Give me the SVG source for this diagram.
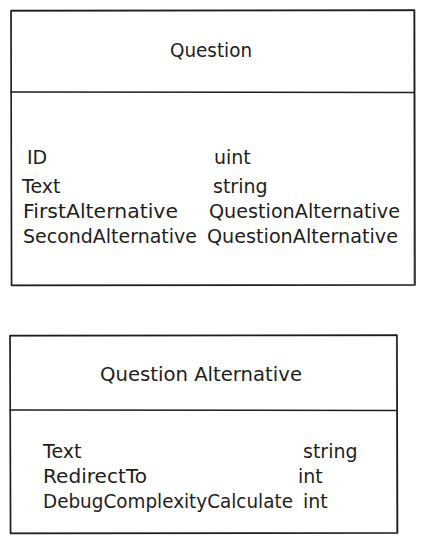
<svg xmlns="http://www.w3.org/2000/svg" width="425" height="543" viewBox="0 0 425 543">
<style>
.box{fill:none;stroke:#1e1e1e;stroke-width:1.6;stroke-linecap:round;stroke-linejoin:round}
.sk{fill:none;stroke:#1e1e1e;stroke-width:0.8;stroke-linecap:round;opacity:0.7}
text{font-family:"DejaVu Sans","Liberation Sans",sans-serif;font-size:19px;fill:#1e1e1e}
</style>
<rect width="425" height="543" fill="#ffffff"/>
<g id="question">
<path class="box" d="M11 10.5 L414.5 10 L415 285 L11.5 285.5 Z"/>
<path class="sk" d="M12 11.5 L413 10.8 M413.8 11 L414 284 M413 284.6 L12 284.8 M11.8 284 L11.3 11.5"/>
<path class="box" d="M11 92 L414 92.5"/>
<text x="211" y="57" text-anchor="middle" textLength="82" lengthAdjust="spacingAndGlyphs">Question</text>
<text x="27" y="164" font-size="20">ID</text>
<text x="214" y="164">uint</text>
<text x="22" y="193" font-size="21">Text</text>
<text x="213" y="193">string</text>
<text x="23" y="218" textLength="155" lengthAdjust="spacingAndGlyphs">FirstAlternative</text>
<text x="209" y="218" textLength="191" lengthAdjust="spacingAndGlyphs">QuestionAlternative</text>
<text x="23" y="243" textLength="174" lengthAdjust="spacingAndGlyphs">SecondAlternative</text>
<text x="207" y="243" textLength="191" lengthAdjust="spacingAndGlyphs">QuestionAlternative</text>
</g>
<g id="question-alternative">
<path class="box" d="M10 335.5 L397 335 L397.5 533 L10.5 533.5 Z"/>
<path class="sk" d="M11 336.3 L396 335.8 M396.4 336 L396.7 532 M396 532.6 L11 532.8 M10.8 532 L10.4 336.5"/>
<path class="box" d="M10 410 L396 410.5"/>
<text x="201" y="381" text-anchor="middle" textLength="202" lengthAdjust="spacingAndGlyphs">Question Alternative</text>
<text x="43" y="458" font-size="21">Text</text>
<text x="303" y="458">string</text>
<text x="43" y="483" textLength="104" lengthAdjust="spacingAndGlyphs">RedirectTo</text>
<text x="298" y="483">int</text>
<text x="43" y="508" textLength="250" lengthAdjust="spacingAndGlyphs">DebugComplexityCalculate</text>
<text x="303" y="508">int</text>
</g>
<g id="connectors"></g>
</svg>
